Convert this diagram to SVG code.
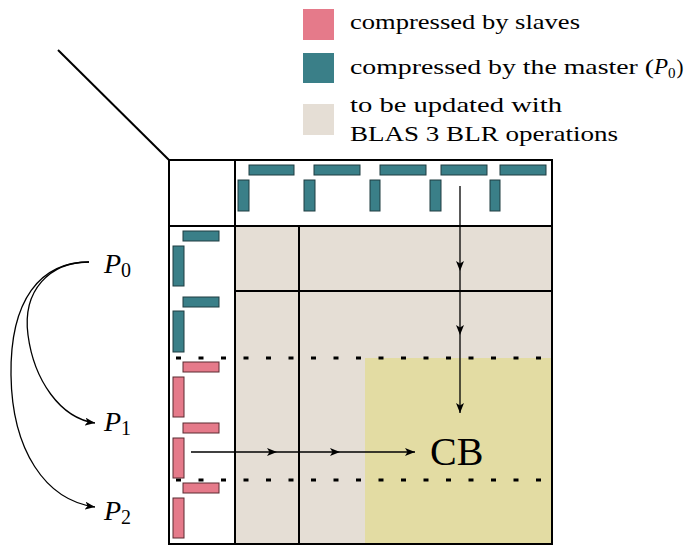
<svg xmlns="http://www.w3.org/2000/svg" width="691" height="545" viewBox="0 0 691 545">
<defs>
<style>
.t{font-family:"Liberation Serif","Times New Roman",serif;fill:#000}
.leg{font-size:21px}
.teal{fill:#3a7f88;stroke:#1e3c40;stroke-width:1}
.pink{fill:#e57a8a;stroke:#5a2a30;stroke-width:1}
.frame{fill:none;stroke:#000;stroke-width:2}
.dot{stroke:#000;stroke-width:3;stroke-dasharray:5 17.5;fill:none}
.conn{fill:none;stroke:#000;stroke-width:1.3}
</style>
<marker id="ah" viewBox="0 0 10 8" refX="10" refY="4" markerWidth="10" markerHeight="8" markerUnits="userSpaceOnUse" orient="auto">
<path d="M0,0 L10,4 L0,8 L2.5,4 Z" fill="#000"/>
</marker>
</defs>
<rect width="691" height="545" fill="#fff"/>

<g id="legend">
<rect x="303" y="9" width="31" height="31" fill="#e57a8a"/>
<rect x="303" y="53" width="31" height="30" fill="#3a7f88"/>
<rect x="303" y="104" width="31" height="31" fill="#e5ded5"/>
<text class="t leg" x="350" y="29" textLength="230" lengthAdjust="spacingAndGlyphs">compressed by slaves</text>
<text class="t leg" x="350" y="74"><tspan textLength="304" lengthAdjust="spacingAndGlyphs">compressed by the master (</tspan><tspan font-style="italic" font-size="23">P</tspan><tspan font-size="15" dy="4">0</tspan><tspan dy="-4" dx="1">)</tspan></text>
<text class="t leg" x="350" y="112" textLength="212" lengthAdjust="spacingAndGlyphs">to be updated with</text>
<text class="t leg" x="350" y="141" textLength="268" lengthAdjust="spacingAndGlyphs">BLAS 3 BLR operations</text>
</g>

<g id="matrix">
<rect x="235" y="226" width="317" height="318" fill="#e5ded5"/>
<rect x="365" y="358" width="187" height="186" fill="#e3dca3"/>
<line x1="58" y1="50" x2="169" y2="160" stroke="#000" stroke-width="2"/>
<rect class="frame" x="169" y="160" width="383" height="384"/>
<line class="frame" x1="235" y1="160" x2="235" y2="544"/>
<line class="frame" x1="169" y1="226" x2="552" y2="226"/>
<line class="frame" x1="299" y1="226" x2="299" y2="544"/>
<line class="frame" x1="235" y1="291" x2="552" y2="291"/>
<line class="dot" x1="176" y1="358" x2="552" y2="358"/>
<line class="dot" x1="176" y1="480" x2="552" y2="480"/>
</g>

<g id="top-blocks">
<rect class="teal" x="249" y="165" width="45" height="10"/>
<rect class="teal" x="314" y="165" width="46" height="10"/>
<rect class="teal" x="380" y="165" width="46" height="10"/>
<rect class="teal" x="441" y="165" width="46" height="10"/>
<rect class="teal" x="500" y="165" width="46" height="10"/>
<rect class="teal" x="238" y="180" width="11" height="31"/>
<rect class="teal" x="304" y="180" width="11" height="31"/>
<rect class="teal" x="370" y="180" width="10" height="31"/>
<rect class="teal" x="430" y="180" width="11" height="31"/>
<rect class="teal" x="490" y="180" width="10" height="31"/>
</g>

<g id="left-blocks">
<rect class="teal" x="183" y="231" width="36" height="10"/>
<rect class="teal" x="173" y="246" width="11" height="40"/>
<rect class="teal" x="183" y="297" width="36" height="10"/>
<rect class="teal" x="173" y="311" width="11" height="41"/>
<rect class="pink" x="183" y="362" width="36" height="10"/>
<rect class="pink" x="173" y="377" width="11" height="40"/>
<rect class="pink" x="183" y="423" width="36" height="10"/>
<rect class="pink" x="173" y="438" width="11" height="40"/>
<rect class="pink" x="183" y="483" width="36" height="10"/>
<rect class="pink" x="173" y="498" width="11" height="40"/>
</g>

<g id="connectors">
<polyline class="conn" stroke="#555" points="460,186 460,271 460,335 460,413" marker-mid="url(#ah)" marker-end="url(#ah)"/>
<polyline class="conn" points="191,452 277,452 340,452 415,452" marker-mid="url(#ah)" marker-end="url(#ah)"/>
<path class="conn" d="M89,262 C50,262 22,290 28,335 C34,380 60,418 95,423" marker-end="url(#ah)"/>
<path class="conn" d="M89,262 C40,262 10,300 11,375 C12,450 45,500 95,507" marker-end="url(#ah)"/>
</g>

<g id="labels">
<text class="t" x="104" y="273" font-size="28"><tspan font-style="italic">P</tspan><tspan font-size="20" dy="4">0</tspan></text>
<text class="t" x="104" y="431" font-size="28"><tspan font-style="italic">P</tspan><tspan font-size="20" dy="4">1</tspan></text>
<text class="t" x="104" y="520" font-size="28"><tspan font-style="italic">P</tspan><tspan font-size="20" dy="4">2</tspan></text>
<text class="t" x="430" y="465" font-size="40">CB</text>
</g>
</svg>
